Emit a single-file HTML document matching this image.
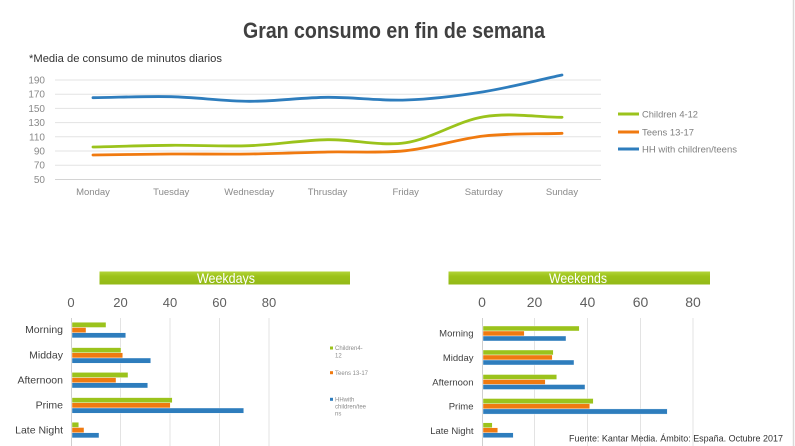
<!DOCTYPE html>
<html><head><meta charset="utf-8"><style>
html,body{margin:0;padding:0;background:#fff;}
svg{display:block;}
text{font-family:"Liberation Sans",sans-serif;}
</style></head><body>
<svg width="795" height="446" viewBox="0 0 795 446" xmlns="http://www.w3.org/2000/svg">
<rect width="795" height="446" fill="#fff"/>
<line x1="793.5" y1="0" x2="793.5" y2="446" stroke="#d9d9d9" stroke-width="1.5"/>
<!-- Title -->
<text x="243" y="38" font-size="22" font-weight="bold" fill="#404040" textLength="302" lengthAdjust="spacingAndGlyphs">Gran consumo en fin de semana</text>
<text x="29" y="62" font-size="11" fill="#333" textLength="193" lengthAdjust="spacingAndGlyphs">*Media de consumo de minutos diarios</text>
<!-- Top chart grid -->
<g stroke="#e3e3e3" stroke-width="1">
<line x1="55" y1="80" x2="601" y2="80"/>
<line x1="55" y1="94.2" x2="601" y2="94.2"/>
<line x1="55" y1="108.4" x2="601" y2="108.4"/>
<line x1="55" y1="122.6" x2="601" y2="122.6"/>
<line x1="55" y1="136.8" x2="601" y2="136.8"/>
<line x1="55" y1="151" x2="601" y2="151"/>
<line x1="55" y1="165.2" x2="601" y2="165.2"/>
</g>
<line x1="55" y1="179.5" x2="601" y2="179.5" stroke="#d4d4d4" stroke-width="1"/>
<g font-size="10" fill="#8a8a8a" text-anchor="end">
<text x="45" y="83.5">190</text>
<text x="45" y="97.7">170</text>
<text x="45" y="111.9">150</text>
<text x="45" y="126.1">130</text>
<text x="45" y="140.3">110</text>
<text x="45" y="154.5">90</text>
<text x="45" y="168.7">70</text>
<text x="45" y="182.9">50</text>
</g>
<g font-size="9.5" fill="#8a8a8a" text-anchor="middle">
<text x="93" y="195">Monday</text>
<text x="171.2" y="195">Tuesday</text>
<text x="249.3" y="195">Wednesday</text>
<text x="327.5" y="195">Thrusday</text>
<text x="405.7" y="195">Friday</text>
<text x="483.8" y="195">Saturday</text>
<text x="562" y="195">Sunday</text>
</g>
<g fill="none" stroke-width="2.8" stroke-linecap="round">
<path stroke="#2e7dbd" d="M93,97.7 C119.06,97.37 145.14,96.1 171.2,96.7 C197.26,97.3 223.24,101.2 249.3,101.3 C275.36,101.4 301.44,97.52 327.5,97.3 C353.56,97.08 379.64,100.93 405.7,100 C431.76,99.07 457.74,95.87 483.8,91.7 C509.86,87.53 535.94,80.57 562,75"/>
<path stroke="#9bc31c" d="M93,147 C119.06,146.43 145.14,145.52 171.2,145.3 C197.26,145.08 223.24,146.63 249.3,145.7 C275.36,144.77 301.44,140.2 327.5,139.7 C353.56,139.2 379.64,146.53 405.7,142.7 C431.76,138.87 457.74,120.93 483.8,116.7 C509.86,112.47 535.94,117.1 562,117.3"/>
<path stroke="#f07a10" d="M93,155 C119.06,154.67 145.14,154.17 171.2,154 C197.26,153.83 223.24,154.33 249.3,154 C275.36,153.67 301.44,152.55 327.5,152 C353.56,151.45 379.64,153.37 405.7,150.7 C431.76,148.03 457.74,138.9 483.8,136 C509.86,133.1 535.94,134.2 562,133.3"/>
</g>
<!-- Legend -->
<g stroke-width="3">
<line x1="618" y1="114" x2="639" y2="114" stroke="#9bc31c"/>
<line x1="618" y1="132" x2="639" y2="132" stroke="#f07a10"/>
<line x1="618" y1="149" x2="639" y2="149" stroke="#2e7dbd"/>
</g>
<g font-size="9.5" fill="#7f7f7f">
<text x="642" y="117.5" textLength="56" lengthAdjust="spacingAndGlyphs">Children 4-12</text>
<text x="642" y="135.5" textLength="52" lengthAdjust="spacingAndGlyphs">Teens 13-17</text>
<text x="642" y="152.5" textLength="95" lengthAdjust="spacingAndGlyphs">HH with children/teens</text>
</g>

<!-- Weekdays -->
<defs>
<linearGradient id="gb" x1="0" y1="0" x2="0" y2="1">
<stop offset="0" stop-color="#b3d43a"/>
<stop offset="0.35" stop-color="#9dc31a"/>
<stop offset="1" stop-color="#93b917"/>
</linearGradient>
</defs>
<rect x="99.5" y="271.5" width="250.5" height="13" fill="url(#gb)"/>
<text x="226" y="283" font-size="14" fill="#fff" text-anchor="middle" textLength="58" lengthAdjust="spacingAndGlyphs">Weekdays</text>
<g font-size="13" fill="#5f5f5f" text-anchor="middle">
<text x="71" y="307">0</text>
<text x="120.5" y="307">20</text>
<text x="170" y="307">40</text>
<text x="219.5" y="307">60</text>
<text x="269" y="307">80</text>
</g>
<g stroke="#e3e3e3" stroke-width="1">
<line x1="120.5" y1="318" x2="120.5" y2="446"/>
<line x1="170" y1="318" x2="170" y2="446"/>
<line x1="219.5" y1="318" x2="219.5" y2="446"/>
<line x1="269" y1="318" x2="269" y2="446"/>
</g>
<line x1="71.5" y1="318" x2="71.5" y2="446" stroke="#cfcfcf" stroke-width="1"/>
<g font-size="10.5" fill="#404040" text-anchor="end">
<text x="63" y="333">Morning</text>
<text x="63" y="358.5">Midday</text>
<text x="63" y="383.5">Afternoon</text>
<text x="63" y="408.5">Prime</text>
<text x="63" y="433.5">Late Night</text>
</g>
<g stroke="#fff" stroke-width="0.4">
<rect x="72" y="322.3" width="34" height="5.2" fill="#9bc31c"/>
<rect x="72" y="327.5" width="14" height="5.2" fill="#f07a10"/>
<rect x="72" y="332.7" width="53.7" height="5.2" fill="#2e7dbd"/>

<rect x="72" y="347.6" width="49" height="5.2" fill="#9bc31c"/>
<rect x="72" y="352.8" width="50.7" height="5.2" fill="#f07a10"/>
<rect x="72" y="358" width="78.7" height="5.2" fill="#2e7dbd"/>

<rect x="72" y="372.4" width="56" height="5.2" fill="#9bc31c"/>
<rect x="72" y="377.6" width="44" height="5.2" fill="#f07a10"/>
<rect x="72" y="382.8" width="75.7" height="5.2" fill="#2e7dbd"/>

<rect x="72" y="397.6" width="100.3" height="5.2" fill="#9bc31c"/>
<rect x="72" y="402.8" width="98.3" height="5.2" fill="#f07a10"/>
<rect x="72" y="408" width="171.7" height="5.2" fill="#2e7dbd"/>

<rect x="72" y="422.3" width="6.7" height="5.2" fill="#9bc31c"/>
<rect x="72" y="427.5" width="12" height="5.2" fill="#f07a10"/>
<rect x="72" y="432.7" width="27" height="5.2" fill="#2e7dbd"/>
</g>
<rect x="330" y="346.5" width="3" height="3" fill="#9bc31c"/>
<rect x="330" y="371.2" width="3" height="3" fill="#f07a10"/>
<rect x="330" y="397.8" width="3" height="3" fill="#2e7dbd"/>
<g font-size="6" fill="#8c8c8c">
<text x="335" y="350">Children4-</text>
<text x="335" y="357.5">12</text>
<text x="335" y="374.8">Teens 13-17</text>
<text x="335" y="401.3">HHwith</text>
<text x="335" y="408.3">children/tee</text>
<text x="335" y="415.3">ns</text>
</g>

<!-- Weekends -->
<rect x="448.5" y="271.5" width="261.5" height="13" fill="url(#gb)"/>
<text x="578" y="283" font-size="14" fill="#fff" text-anchor="middle" textLength="58" lengthAdjust="spacingAndGlyphs">Weekends</text>
<g font-size="14" fill="#5f5f5f" text-anchor="middle">
<text x="482" y="307">0</text>
<text x="534.5" y="307">20</text>
<text x="587.5" y="307">40</text>
<text x="640.5" y="307">60</text>
<text x="693" y="307">80</text>
</g>
<g stroke="#e3e3e3" stroke-width="1">
<line x1="534.5" y1="318" x2="534.5" y2="446"/>
<line x1="587.5" y1="318" x2="587.5" y2="446"/>
<line x1="640.5" y1="318" x2="640.5" y2="446"/>
<line x1="693" y1="318" x2="693" y2="446"/>
</g>
<line x1="482.5" y1="318" x2="482.5" y2="446" stroke="#cfcfcf" stroke-width="1"/>
<g font-size="9.5" fill="#404040" text-anchor="end">
<text x="473.5" y="336.5">Morning</text>
<text x="473.5" y="361">Midday</text>
<text x="473.5" y="385.5">Afternoon</text>
<text x="473.5" y="409.5">Prime</text>
<text x="473.5" y="434">Late Night</text>
</g>
<g stroke="#fff" stroke-width="0.4">
<rect x="483" y="326" width="96.3" height="5" fill="#9bc31c"/>
<rect x="483" y="331" width="41.3" height="5" fill="#f07a10"/>
<rect x="483" y="336" width="83" height="5" fill="#2e7dbd"/>

<rect x="483" y="350" width="70.3" height="5" fill="#9bc31c"/>
<rect x="483" y="355" width="69.3" height="5" fill="#f07a10"/>
<rect x="483" y="360" width="91" height="5" fill="#2e7dbd"/>

<rect x="483" y="374.5" width="73.7" height="5" fill="#9bc31c"/>
<rect x="483" y="379.5" width="62.3" height="5" fill="#f07a10"/>
<rect x="483" y="384.5" width="102" height="5" fill="#2e7dbd"/>

<rect x="483" y="398.5" width="110.3" height="5.2" fill="#9bc31c"/>
<rect x="483" y="403.7" width="106.7" height="5.2" fill="#f07a10"/>
<rect x="483" y="408.9" width="184.3" height="5.2" fill="#2e7dbd"/>

<rect x="483" y="422.7" width="9.3" height="5" fill="#9bc31c"/>
<rect x="483" y="427.7" width="14.7" height="5" fill="#f07a10"/>
<rect x="483" y="432.7" width="30.3" height="5" fill="#2e7dbd"/>
</g>
<text x="569" y="441.5" font-size="9.5" fill="#333" textLength="214" lengthAdjust="spacingAndGlyphs">Fuente: Kantar Media. Ámbito: España. Octubre  2017</text>
</svg>
</body></html>
